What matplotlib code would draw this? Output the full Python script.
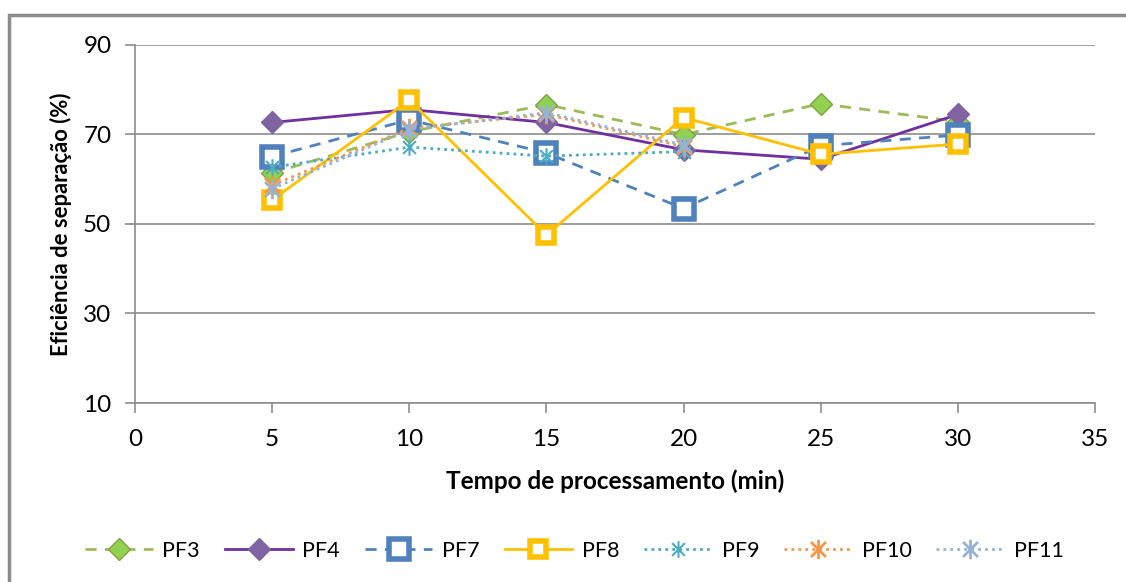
import numpy as np
import matplotlib
matplotlib.use('Agg')
import matplotlib.pyplot as plt
from matplotlib.path import Path
from matplotlib.patches import Rectangle

plt.rcParams['font.family'] = ['Lato', 'DejaVu Sans']

# data
tempo = [5, 10, 15, 20, 25, 30]
pf3 = [61.3, 70.5, 76.6, 69.9, 76.8, 72.8]
pf4 = [72.6, 75.5, 72.6, 66.5, 64.4, 74.4]
pf7 = [65.0, 73.2, 65.8, 53.4, 67.4, 69.8]
pf8 = [55.3, 77.6, 47.5, 73.7, 65.5, 67.8]
tempo_b = [5, 10, 15, 20]
pf9 = [62.6, 67.1, 65.1, 66.1]
pf10 = [58.6, 71.3, 74.4, 67.2]
pf11 = [57.8, 71.0, 74.8, 67.6]

# excel-like asterisk marker
star = Path([(-1, -1), (1, 1), (-1, 1), (1, -1), (0, -1.3), (0, 1.3)],
            [Path.MOVETO, Path.LINETO, Path.MOVETO, Path.LINETO, Path.MOVETO, Path.LINETO])

fig = plt.figure(figsize=(11.26, 5.82), dpi=100)
ax = fig.add_axes([135 / 1126, 1 - 403 / 582, (1095 - 135) / 1126, (403 - 44.5) / 582])

ax.plot(tempo, pf3, color='#9BBB59', lw=2, ls=(0, (4, 3)), marker='D', ms=11,
        mfc='#92D050', mec='#7FA142', mew=1, label='PF3')
ax.plot(tempo, pf4, color='#7030A0', lw=2, marker='D', ms=11,
        mfc='#8064A2', mec='#8064A2', label='PF4')
ax.plot(tempo, pf7, color='#4F81BD', lw=2, ls=(0, (4, 3)), marker='s', ms=15,
        mfc='white', mec='#4F81BD', mew=4, label='PF7')
ax.plot(tempo, pf8, color='#FFC000', lw=2, marker='s', ms=12,
        mfc='white', mec='#FFC000', mew=4, label='PF8')
ax.plot(tempo_b, pf9, color='#4BACC6', lw=2, ls=(0, (1, 1.5)), marker=star, ms=12,
        mec='#4BACC6', mew=1.5, label='PF9')
ax.plot(tempo_b, pf10, color='#F79646', lw=2, ls=(0, (1, 1.5)), marker=star, ms=14,
        mec='#F79646', mew=2, label='PF10')
ax.plot(tempo_b, pf11, color='#95B3D7', lw=2, ls=(0, (1, 1.5)), marker=star, ms=14,
        mec='#95B3D7', mew=2, label='PF11')

ax.set_xlim(0, 35)
ax.set_ylim(10, 90)
ax.set_xticks(np.arange(0, 36, 5))
ax.set_yticks(np.arange(10, 91, 20))
ax.yaxis.grid(True, color='#8C8C8C', lw=1.2)
ax.set_axisbelow(True)
for s in ['top', 'right']:
    ax.spines[s].set_visible(False)
for s in ['left', 'bottom']:
    ax.spines[s].set_color('#8C8C8C')
    ax.spines[s].set_linewidth(1.2)
ax.tick_params(axis='both', colors='#8C8C8C', labelcolor='black', labelsize=17.5,
               length=7, width=1.2, direction='out')
ax.tick_params(axis='x', pad=12)
ax.tick_params(axis='y', pad=10)

ax.set_xlabel('Tempo de processamento (min)', fontsize=17.5, fontweight='bold', labelpad=14)
ax.set_ylabel('Eficiência de separação (%)', fontsize=15.8, fontweight='bold', labelpad=8)

fig.legend(loc='center', bbox_to_anchor=(0.51, 0.054), ncol=7, frameon=False,
           fontsize=15.5, handlelength=3.15, columnspacing=1.15, handletextpad=0.45)

# chart area border
fig.patches.append(Rectangle((9 / 1126, -0.1), 1.2, 1.1 - 15 / 582, transform=fig.transFigure,
                             fill=False, edgecolor='#8C8C8C', lw=2.5))

fig.savefig('out.png', dpi=100)
